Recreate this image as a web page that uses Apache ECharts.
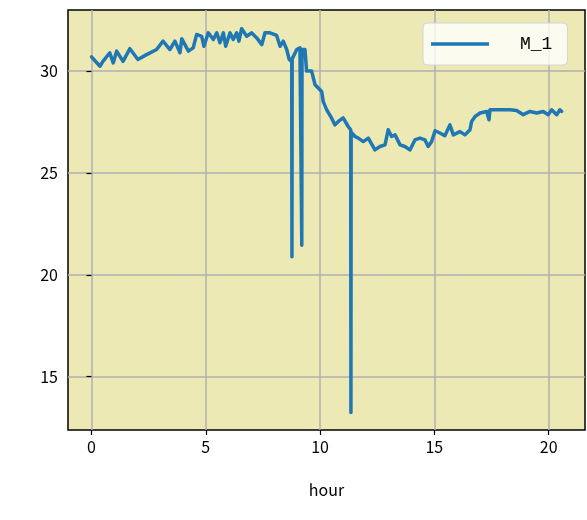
<!DOCTYPE html>
<html lang="en">
<head>
    <meta charset="UTF-8">
    <title>M_1</title>
    <style>
        body{ margin:0; background:#fff; }
        #chart{ width:587px; height:520px; }
    </style>
    <script src="https://cdn.jsdelivr.net/npm/echarts/dist/echarts.min.js"></script>
</head>
<body>
    <div id="chart"></div>
    <script>
      // readings taken off the plot (hour, value)
      var hours = [0, 0.37, 0.5, 0.8, 0.95, 1.1, 1.38, 1.68, 2.03, 2.41, 2.85, 3.13, 3.43, 3.65, 3.87, 3.95, 4.24, 4.45, 4.6, 4.82,
        4.92, 5.11, 5.33, 5.48, 5.62, 5.77, 5.87, 6.06, 6.2, 6.35, 6.45, 6.57, 6.79, 7.0, 7.23, 7.45, 7.59, 7.81, 8.1, 8.25,
        8.39, 8.54, 8.65, 8.76, 8.77, 8.78, 8.98, 9.12, 9.19, 9.2, 9.21, 9.34, 9.41, 9.63, 9.78, 9.92, 10.07, 10.14, 10.29, 10.5,
        10.65, 10.8, 11.01, 11.23, 11.34, 11.35, 11.36, 11.53, 11.67, 11.89, 12.11, 12.4, 12.62, 12.84, 12.98, 13.13, 13.28, 13.5, 13.71, 13.93,
        14.15, 14.37, 14.59, 14.73, 14.88, 15.03, 15.24, 15.46, 15.68, 15.83, 16.12, 16.34, 16.56, 16.63, 16.78, 17.0, 17.29, 17.39, 17.43, 17.73,
        18.01, 18.31, 18.6, 18.89, 19.18, 19.48, 19.76, 19.98, 20.13, 20.35, 20.49, 20.57]
      var m1 = [30.7, 30.24, 30.48, 30.9, 30.4, 30.98, 30.48, 31.1, 30.57, 30.81, 31.06, 31.47, 31.06, 31.47, 30.9, 31.59, 30.98, 31.14, 31.8, 31.71,
        31.22, 31.88, 31.55, 31.88, 31.39, 31.88, 31.22, 31.88, 31.55, 31.88, 31.47, 32.08, 31.71, 31.88, 31.63, 31.3, 31.88, 31.88, 31.75, 31.22,
        31.47, 31.06, 30.57, 30.48, 20.88, 30.6, 31.06, 31.14, 31.1, 21.45, 31.06, 31.06, 30.0, 30.0, 29.33, 29.17, 29.0, 28.5, 28.1, 27.7,
        27.36, 27.53, 27.7, 27.28, 27.12, 13.24, 27.0, 26.79, 26.71, 26.54, 26.71, 26.13, 26.3, 26.38, 27.12, 26.79, 26.87, 26.38, 26.3, 26.13,
        26.62, 26.71, 26.62, 26.3, 26.54, 27.07, 26.96, 26.83, 27.36, 26.87, 27.03, 26.87, 27.12, 27.53, 27.77, 27.94, 28.02, 27.61, 28.1, 28.1,
        28.1, 28.1, 28.07, 27.86, 28.02, 27.94, 28.02, 27.86, 28.1, 27.86, 28.1, 28.02]
      var xTicks = [0, 5, 10, 15, 20]
      var yTicks = [15, 20, 25, 30]

      var pts = hours.map(function (h, i) { return [h, m1[i]] })
      var font = '"Noto Sans CJK JP", sans-serif'

      var chart = echarts.init(document.getElementById('chart'))
      chart.setOption({
        animation: false,
        backgroundColor: '#fff',
        grid: {
          left: 68, top: 10, right: 2, bottom: 90,
          show: true, backgroundColor: '#ECE9B4', borderColor: '#000', borderWidth: 1.5
        },
        legend: {
          left: 423, top: 23,
          padding: [11, 15, 11, 8],
          icon: 'rect',
          itemWidth: 58, itemHeight: 3.5,
          backgroundColor: 'rgba(255,255,255,0.8)',
          borderColor: '#d4d4d4', borderWidth: 1, borderRadius: 4,
          textStyle: { fontFamily: '"Liberation Mono", monospace', fontSize: 18, lineHeight: 20, color: '#000', padding: [0, 0, 0, 26] },
          data: ['M_1']
        },
        xAxis: {
          type: 'value', min: -1.028, max: 21.59,
          name: 'hour', nameLocation: 'middle', nameGap: 52,
          nameTextStyle: { fontFamily: font, fontSize: 16, color: '#000' },
          axisLine: { show: false },
          axisTick: { show: true, length: 5, lineStyle: { color: '#000', width: 1.2 }, customValues: xTicks },
          axisLabel: { fontFamily: font, fontSize: 16, color: '#000', margin: 9, customValues: xTicks },
          splitLine: { show: true, lineStyle: { color: '#b0b0b0', width: 1.5 } },
          interval: 5
        },
        yAxis: {
          type: 'value', min: 12.38, max: 33.0,
          axisLine: { show: false },
          axisTick: { show: true, length: 5, lineStyle: { color: '#000', width: 1.2 }, customValues: yTicks },
          axisLabel: { fontFamily: font, fontSize: 16, color: '#000', margin: 10, customValues: yTicks },
          splitLine: { show: true, lineStyle: { color: '#b0b0b0', width: 1.5 } },
          interval: 5
        },
        series: [{
          name: 'M_1', type: 'line', data: pts,
          symbol: 'none', showSymbol: false,
          lineStyle: { color: '#1f77b4', width: 3.5, join: 'round', cap: 'round' },
          itemStyle: { color: '#1f77b4' }
        }]
      })
    </script>
</body>
</html>
